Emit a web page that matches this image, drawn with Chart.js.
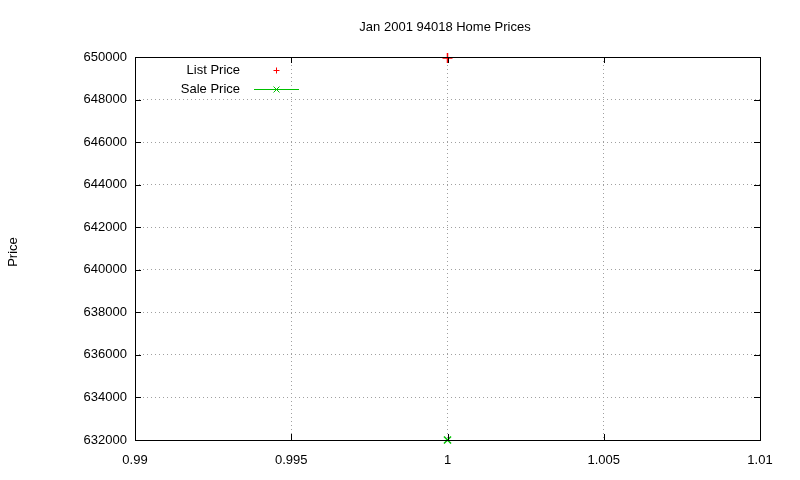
<!DOCTYPE html>
<html>
<head>
<meta charset="utf-8">
<script src="https://cdn.jsdelivr.net/npm/chart.js@4/dist/chart.umd.min.js"></script>
<style>
  body { margin: 0; background: #fff; }
  #wrap { width: 800px; height: 480px; }
</style>
</head>
<body>
<div id="wrap"><canvas id="priceChart"></canvas></div>
<script>
// ============ DATA ============
const chartTitle = "Jan 2001 94018 Home Prices";
const yTitle = "Price";
const listX = [1];
const listPrice = [649950];
const saleX = [1];
const salePrice = [632000];
const xTicks = [0.99, 0.995, 1, 1.005, 1.01];
const yTicks = [632000, 634000, 636000, 638000, 640000, 642000, 644000, 646000, 648000, 650000];

const FONT = "Liberation Sans, Arial, sans-serif";
const FSIZE = 13;

// ============ GNUPLOT-STYLE FRAME, TITLE, LEGEND ============
const gnuplotDecor = {
    id: "gnuplotDecor",
    afterDraw(chart) {
        const c = chart.ctx, a = chart.chartArea;
        const xs = chart.scales.x, ys = chart.scales.y;
        c.save();
        c.strokeStyle = "#000";
        c.lineWidth = 1;
        c.strokeRect(a.left + 0.5, a.top + 0.5, a.right - a.left, a.bottom - a.top);
        // inward ticks on all sides
        c.beginPath();
        xTicks.forEach(v => {
            const px = Math.round(xs.getPixelForValue(v)) + 0.5;
            c.moveTo(px, a.bottom); c.lineTo(px, a.bottom - 6);
            c.moveTo(px, a.top); c.lineTo(px, a.top + 6);
        });
        yTicks.forEach(v => {
            const py = Math.round(ys.getPixelForValue(v)) + 0.5;
            c.moveTo(a.left, py); c.lineTo(a.left + 6, py);
            c.moveTo(a.right, py); c.lineTo(a.right - 6, py);
        });
        c.stroke();

        c.fillStyle = "#000";
        c.font = FSIZE + "px " + FONT;
        c.textAlign = "center";
        c.textBaseline = "middle";
        c.fillText(chartTitle, 445, 27);
        c.save();
        c.translate(13, 252);
        c.rotate(-Math.PI / 2);
        c.fillText(yTitle, 0, 0);
        c.restore();

        // legend
        c.textAlign = "right";
        chart.data.datasets.forEach((ds, i) => {
            const ly = 70 + i * 19;
            c.fillStyle = "#000";
            c.fillText(ds.label, 240, ly);
            c.strokeStyle = ds.borderColor;
            c.beginPath();
            if (ds.showLine) { c.moveTo(254, ly + 0.5); c.lineTo(299, ly + 0.5); }
            const cx = 276.5;
            if (ds.pointStyle === "cross") {
                c.moveTo(cx - 3, ly + 0.5); c.lineTo(cx + 3, ly + 0.5);
                c.moveTo(cx, ly - 2.5); c.lineTo(cx, ly + 3.5);
            } else {
                c.moveTo(cx - 3, ly - 2.5); c.lineTo(cx + 3, ly + 3.5);
                c.moveTo(cx + 3, ly - 2.5); c.lineTo(cx - 3, ly + 3.5);
            }
            c.stroke();
        });
        c.restore();
    }
};

// ============ CHART ============
new Chart(document.getElementById("priceChart"), {
    type: "scatter",
    data: {
        datasets: [
            {
                label: "List Price",
                data: listX.map((x, i) => ({ x, y: listPrice[i] })),
                borderColor: "#ff0000",
                backgroundColor: "#ff0000",
                pointStyle: "cross",
                pointRadius: 5,
                borderWidth: 1.5,
                showLine: false
            },
            {
                label: "Sale Price",
                data: saleX.map((x, i) => ({ x, y: salePrice[i] })),
                borderColor: "#00c000",
                backgroundColor: "#00c000",
                pointStyle: "crossRot",
                pointRadius: 5,
                borderWidth: 1.5,
                showLine: true
            }
        ]
    },
    options: {
        responsive: true,
        maintainAspectRatio: false,
        animation: false,
        clip: false,
        layout: { padding: { top: 57, right: 40, left: 0, bottom: 0 } },
        plugins: { legend: { display: false }, title: { display: false }, tooltip: { enabled: false } },
        scales: {
            x: {
                type: "linear",
                min: 0.99, max: 1.01,
                afterBuildTicks: s => { s.ticks = xTicks.map(v => ({ value: v })); },
                afterFit: s => { s.height = 40; },
                border: { display: false, dash: [1, 3] },
                grid: { color: "#a0a0a0", drawTicks: false },
                ticks: { color: "#000", font: { family: FONT, size: FSIZE }, padding: 13, callback: v => String(v) }
            },
            y: {
                min: 632000, max: 650000,
                afterBuildTicks: s => { s.ticks = yTicks.map(v => ({ value: v })); },
                afterFit: s => { s.width = 135; },
                border: { display: false, dash: [1, 3] },
                grid: { color: "#a0a0a0", drawTicks: false },
                ticks: { color: "#000", font: { family: FONT, size: FSIZE }, padding: 8, callback: v => String(v) }
            }
        }
    },
    plugins: [gnuplotDecor]
});
</script>
</body>
</html>
